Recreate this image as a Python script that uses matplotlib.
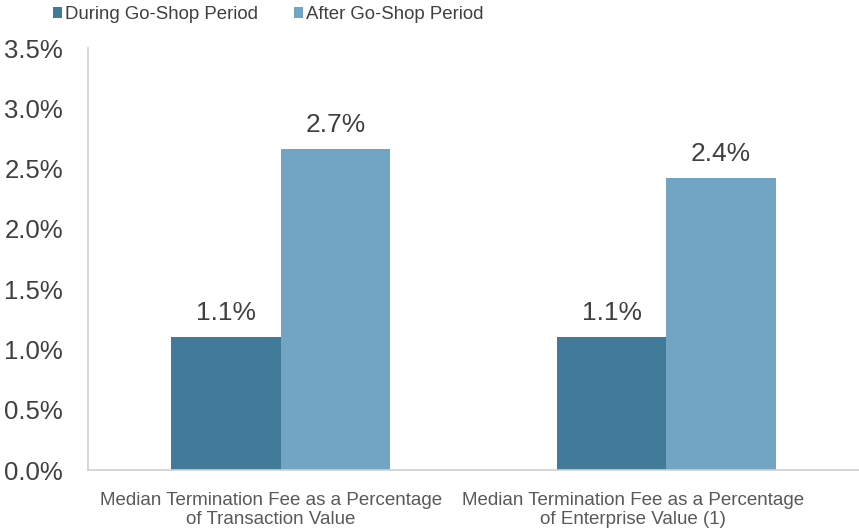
import matplotlib
matplotlib.use("Agg")
import matplotlib.pyplot as plt
import matplotlib.transforms as mtransforms
import numpy as np

categories = ["Median Termination Fee as a Percentage\nof Transaction Value",
              "Median Termination Fee as a Percentage\nof Enterprise Value (1)"]
series_names = ["During Go-Shop Period", "After Go-Shop Period"]
during = [1.1, 1.1]
after = [2.66, 2.42]
yticks = [0.0, 0.5, 1.0, 1.5, 2.0, 2.5, 3.0, 3.5]

colors = ["#427A99", "#72A5C4"]
plt.rcParams['font.family'] = ['Liberation Sans', 'DejaVu Sans']

fig = plt.figure(figsize=(8.59, 5.30), dpi=100)
ax = fig.add_axes([88/859, 60/530, 1 - 88/859, (470-48)/530])

x = np.arange(len(categories))
w = 0.284
b1 = ax.bar(x - w/2, during, w, color=colors[0], label=series_names[0])
b2 = ax.bar(x + w/2, after, w, color=colors[1], label=series_names[1])

for bars, vals in ((b1, during), (b2, after)):
    for r, v in zip(bars, vals):
        ax.annotate(f"{v:.1f}%", (r.get_x() + r.get_width()/2, v),
                    xytext=(0, 9), textcoords="offset points",
                    ha="center", va="bottom", fontsize=19, color="#404040")

ax.set_xlim(-0.5, 1.5)
ax.set_ylim(0, 3.5)
ax.set_yticks(yticks)
ax.set_yticklabels([f"{t:.1f}%" for t in yticks], fontsize=18.5, color="#404040")
ax.set_xticks(x)
ax.set_xticklabels(categories, fontsize=13.5, color="#595959", linespacing=1.1)
ax.tick_params(axis="y", length=0, pad=18)
ax.tick_params(axis="x", length=0, pad=16)
# the reference draws category labels slightly left of the group centres
for lbl, dx in zip(ax.get_xticklabels(), (-10, -33)):
    lbl.set_transform(lbl.get_transform() +
                      mtransforms.ScaledTranslation(dx / 100, 0, fig.dpi_scale_trans))
for s in ("top", "right"):
    ax.spines[s].set_visible(False)
for s in ("left", "bottom"):
    ax.spines[s].set_color("#D0D0D0")
    ax.spines[s].set_linewidth(1.2)

fig.legend(loc="upper left", bbox_to_anchor=(42/859, 1.01), ncol=2, frameon=False,
           fontsize=13.4, handlelength=0.5, handleheight=0.5, handletextpad=0.15,
           columnspacing=1.9, labelcolor="#404040", borderaxespad=0.2)

fig.savefig("out.png", dpi=100)
